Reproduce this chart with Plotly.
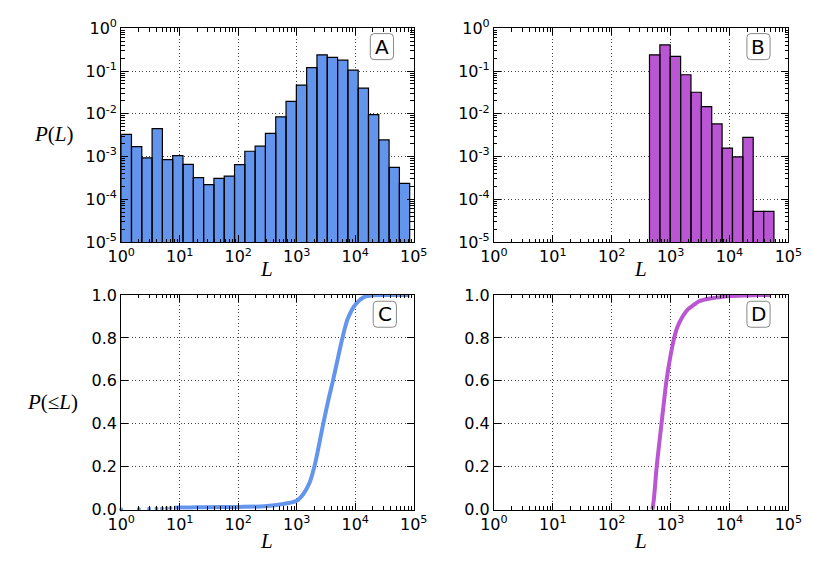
import plotly.graph_objects as go

W, H = 814, 563

# ---------------- data ----------------
# log-spaced histogram bin edges (ratio 1.5)
bin_edges = [1, 1.5, 2.25, 3.375, 5.06, 7.59, 11.39, 17.09, 25.63, 38.44, 57.67,
             86.5, 129.7, 194.6, 291.9, 437.9, 656.8, 985.3, 1477.9, 2216.8,
             3325.3, 4987.9, 7481.8, 11222.7, 16834.1, 25251.2, 37876.8,
             56815.2, 85222.8]

# Panel A: P(L)
a_heights = [3.3e-3, 1.7e-3, 9.3e-4, 4.5e-3, 8.5e-4, 1.05e-3, 6.6e-4, 3.2e-4,
             2.2e-4, 3.1e-4, 3.5e-4, 6.5e-4, 1.33e-3, 1.75e-3, 3.5e-3, 8.5e-3,
             1.95e-2, 4.7e-2, 0.12, 0.24, 0.21, 0.18, 0.105, 0.04, 9.6e-3,
             2.45e-3, 5.6e-4, 2.35e-4]
a_first_bin = 0

# Panel B: P(L)
b_heights = [0.24, 0.41, 0.22, 0.082, 0.032, 0.0147, 5.8e-3, 1.58e-3, 9.8e-4,
             2.8e-3, 5.2e-5, 5.2e-5]
b_first_bin = 15

# Panel C: cumulative P(<=L)
c_disc_L = [1, 2, 3, 4, 5, 6, 7]
c_disc_P = [0.0005, 0.003, 0.004, 0.005, 0.006, 0.007, 0.008]
c_L = [8, 10, 20, 50, 100, 282, 600, 1000, 1290, 1650, 2000, 2240, 2740,
       3400, 4150, 5140, 6040, 7460, 10000, 14000, 20000, 40000, 85000]
c_P = [0.009, 0.010, 0.011, 0.012, 0.013, 0.016, 0.027, 0.042, 0.072, 0.124,
       0.2, 0.26, 0.38, 0.5, 0.6, 0.715, 0.8, 0.89, 0.955, 0.99, 0.999,
       1.0, 1.0]

# Panel D: cumulative P(<=L)
d_L = [490, 520, 580, 700, 850, 1000, 1150, 1300, 1600, 2000, 2500, 3000,
       4000, 5000, 7000, 10000, 20000, 50000]
d_P = [0.0, 0.05, 0.2, 0.4, 0.6, 0.72, 0.8, 0.85, 0.9, 0.935, 0.955, 0.97,
       0.98, 0.985, 0.99, 0.995, 0.998, 1.0]

blue = "#6495ED"
purple = "#BA55D3"

x_tickvals = [1, 10, 100, 1000, 10000, 100000]
x_ticktext = ["10<sup>%d</sup>" % k for k in range(6)]
y_log_tickvals = [1e-5, 1e-4, 1e-3, 1e-2, 1e-1, 1]
y_log_ticktext = ["10<sup>-%d</sup>" % k for k in (5, 4, 3, 2, 1)] + ["10<sup>0</sup>"]
y_lin_tickvals = [0, 0.2, 0.4, 0.6, 0.8, 1.0]
y_lin_ticktext = ["0.0", "0.2", "0.4", "0.6", "0.8", "1.0"]


def bars_xy(heights, first):
    xs, ys = [], []
    for i, h in enumerate(heights):
        e0, e1 = bin_edges[first + i], bin_edges[first + i + 1]
        xs += [e0, e0, e1, e1, e0, None]
        ys += [1e-7, h, h, 1e-7, 1e-7, None]
    return xs, ys


fig = go.Figure()

ax, ay = bars_xy(a_heights, a_first_bin)
fig.add_trace(go.Scatter(x=ax, y=ay, mode="lines", fill="toself",
                         fillcolor=blue, line=dict(color="black", width=1.2),
                         xaxis="x", yaxis="y", showlegend=False))
bx, by = bars_xy(b_heights, b_first_bin)
fig.add_trace(go.Scatter(x=bx, y=by, mode="lines", fill="toself",
                         fillcolor=purple, line=dict(color="black", width=1.2),
                         xaxis="x2", yaxis="y2", showlegend=False))
fig.add_trace(go.Scatter(x=c_disc_L, y=c_disc_P, mode="markers",
                         marker=dict(color=blue, size=4),
                         xaxis="x3", yaxis="y3", showlegend=False, cliponaxis=False))
fig.add_trace(go.Scatter(x=c_L, y=c_P, mode="lines",
                         line=dict(color=blue, width=4, shape="spline", smoothing=0.8),
                         xaxis="x3", yaxis="y3", showlegend=False))
fig.add_trace(go.Scatter(x=d_L, y=d_P, mode="lines",
                         line=dict(color=purple, width=4, shape="spline", smoothing=0.8),
                         xaxis="x4", yaxis="y4", showlegend=False))


def px_x(p):
    return p / W


def px_y(p):
    return 1 - p / H


tickfont = dict(family="DejaVu Sans", size=16, color="black")
common = dict(showline=True, linecolor="black", linewidth=1, mirror="allticks",
              ticks="inside", ticklen=7, tickcolor="black", tickwidth=1,
              showgrid=True, gridcolor="#444", griddash="1px,2.5px", gridwidth=1,
              zeroline=False, tickfont=tickfont, tickmode="array")
minor_log = dict(ticks="inside", ticklen=3.5, tickcolor="black", dtick="D1", showgrid=False)

doms_x = {"L": [px_x(111), px_x(414)], "R": [px_x(497), px_x(802)]}
doms_y = {"T": [px_y(240), px_y(18)], "B": [px_y(518), px_y(295)]}

layout = dict(width=W, height=H, margin=dict(l=0, r=0, t=0, b=0),
              paper_bgcolor="white", plot_bgcolor="white", showlegend=False)

axes = [("x", "y", "L", "T", "log"), ("x2", "y2", "R", "T", "log"),
        ("x3", "y3", "L", "B", "lin"), ("x4", "y4", "R", "B", "lin")]
for xa, ya, hx, vy, kind in axes:
    xkey = "xaxis" + xa[1:]
    ykey = "yaxis" + ya[1:]
    layout[xkey] = dict(common, type="log", range=[0, 5], domain=doms_x[hx],
                        anchor=ya, tickvals=x_tickvals, ticktext=x_ticktext,
                        minor=minor_log)
    if kind == "log":
        layout[ykey] = dict(common, type="log", range=[-5, 0], domain=doms_y[vy],
                            anchor=xa, tickvals=y_log_tickvals, ticktext=y_log_ticktext,
                            minor=minor_log)
    else:
        layout[ykey] = dict(common, type="linear", range=[0, 1], domain=doms_y[vy],
                            anchor=xa, tickvals=y_lin_tickvals, ticktext=y_lin_ticktext)

fig.update_layout(**layout)

label_font = dict(family="Liberation Serif", size=21, color="black")
anns = []
for cx, cy in [(262, 268), (649, 268), (262, 551), (649, 551)]:
    anns.append(dict(x=px_x(cx), y=px_y(cy), xref="paper", yref="paper",
                     text="<i>L</i>", showarrow=False, font=label_font,
                     xanchor="center", yanchor="middle"))
anns.append(dict(x=px_x(41), y=px_y(128), xref="paper", yref="paper",
                 text="<i>P</i>(<i>L</i>)", showarrow=False, font=label_font,
                 xanchor="center", yanchor="middle"))
anns.append(dict(x=px_x(40), y=px_y(406), xref="paper", yref="paper",
                 text="<i>P</i>(≤<i>L</i>)", showarrow=False, font=label_font,
                 xanchor="center", yanchor="middle"))

shapes = []
letters = [("A", 381, 37), ("B", 771, 37), ("C", 384, 315), ("D", 771, 315)]
for t, cx, cy in letters:
    w2, h2, r = 12, 13.5, 4
    x0, x1 = cx - w2, cx + w2
    y0, y1 = cy - h2, cy + h2
    path = (f"M {px_x(x0 + r)},{px_y(y0)} L {px_x(x1 - r)},{px_y(y0)} "
            f"Q {px_x(x1)},{px_y(y0)} {px_x(x1)},{px_y(y0 + r)} "
            f"L {px_x(x1)},{px_y(y1 - r)} Q {px_x(x1)},{px_y(y1)} {px_x(x1 - r)},{px_y(y1)} "
            f"L {px_x(x0 + r)},{px_y(y1)} Q {px_x(x0)},{px_y(y1)} {px_x(x0)},{px_y(y1 - r)} "
            f"L {px_x(x0)},{px_y(y0 + r)} Q {px_x(x0)},{px_y(y0)} {px_x(x0 + r)},{px_y(y0)} Z")
    shapes.append(dict(type="path", path=path, xref="paper", yref="paper",
                       line=dict(color="#888", width=1), fillcolor="white", layer="above"))
    anns.append(dict(x=px_x(cx), y=px_y(cy), xref="paper", yref="paper", text=t,
                     showarrow=False, font=dict(family="DejaVu Sans", size=20, color="black"),
                     xanchor="center", yanchor="middle"))

fig.update_layout(annotations=anns, shapes=shapes)
fig.write_html("out.html")
